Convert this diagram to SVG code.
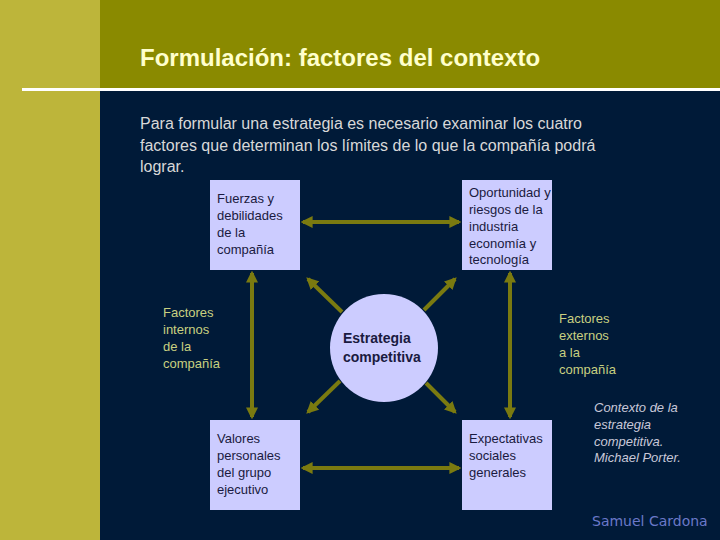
<svg xmlns="http://www.w3.org/2000/svg" width="720" height="540" viewBox="0 0 720 540">
<style>
.bx{fill:#ccccff}
.t{font-family:"Liberation Sans",Arial,sans-serif;font-size:13px;fill:#1a1a40}
.g{font-family:"Liberation Sans",Arial,sans-serif;font-size:13px;fill:#c8d080}
.ln{stroke:#7a7a10;stroke-width:4;fill:none;marker-start:url(#a);marker-end:url(#a)}
.d{stroke:#7a7a10;stroke-width:4;fill:none;marker-end:url(#a)}
</style>
<defs>
<marker id="a" viewBox="0 0 10 10" refX="8" refY="5" markerWidth="3" markerHeight="3" orient="auto-start-reverse"><path d="M0,0L10,5L0,10z" fill="#7a7a10"/></marker>
<clipPath id="c"><rect x="462" y="180" width="90" height="90"/></clipPath>
</defs>
<rect width="720" height="540" fill="#001a38"/>
<rect width="100" height="540" fill="#bdb53a"/>
<rect x="100" width="620" height="88" fill="#8a8a00"/>
<rect x="22" y="88" width="698" height="3" fill="#ffffff"/>
<text x="140" y="66" font-family="Liberation Sans,Arial,sans-serif" font-size="24" font-weight="bold" fill="#ffffcc">Formulación: factores del contexto</text>
<g font-family="Liberation Sans,Arial,sans-serif" font-size="16" fill="#d8d8d8">
<text x="140" y="129">Para formular una estrategia es necesario examinar los cuatro</text>
<text x="140" y="151">factores que determinan los límites de lo que la compañía podrá</text>
<text x="140" y="172">lograr.</text>
</g>
<g id="connectors">
<line class="ln" x1="303" y1="222" x2="459" y2="222"/>
<line class="ln" x1="303" y1="468" x2="459" y2="468"/>
<line class="ln" x1="252" y1="273" x2="252" y2="417"/>
<line class="ln" x1="510" y1="273" x2="510" y2="417"/>
<line class="d" x1="342" y1="312" x2="308" y2="279"/>
<line class="d" x1="424" y1="310" x2="455" y2="279"/>
<line class="d" x1="340" y1="381" x2="308" y2="412"/>
<line class="d" x1="426" y1="383" x2="455" y2="412"/>
</g>
<g id="n1"><rect class="bx" x="210" y="180" width="90" height="90"/>
<text class="t"><tspan x="217" y="203">Fuerzas y</tspan><tspan x="217" y="220">debilidades</tspan><tspan x="217" y="237">de la</tspan><tspan x="217" y="254">compañía</tspan></text></g>
<g id="n2"><rect class="bx" x="462" y="180" width="90" height="90"/>
<text class="t" clip-path="url(#c)"><tspan x="469" y="197">Oportunidad y</tspan><tspan x="469" y="214">riesgos de la</tspan><tspan x="469" y="231">industria</tspan><tspan x="469" y="248">economía y</tspan><tspan x="469" y="264">tecnología</tspan></text></g>
<g id="n3"><rect class="bx" x="210" y="420" width="90" height="90"/>
<text class="t"><tspan x="217" y="443">Valores</tspan><tspan x="217" y="460">personales</tspan><tspan x="217" y="477">del grupo</tspan><tspan x="217" y="494">ejecutivo</tspan></text></g>
<g id="n4"><rect class="bx" x="462" y="420" width="90" height="90"/>
<text class="t"><tspan x="469" y="443">Expectativas</tspan><tspan x="469" y="460">sociales</tspan><tspan x="469" y="477">generales</tspan></text></g>
<g id="center"><circle cx="384" cy="348" r="54" fill="#ccccff"/>
<text font-family="Liberation Sans,Arial,sans-serif" font-size="14" font-weight="bold" fill="#1a1a40"><tspan x="343" y="343">Estrategia</tspan><tspan x="343" y="362">competitiva</tspan></text></g>
<text class="g"><tspan x="163" y="317">Factores</tspan><tspan x="163" y="334">internos</tspan><tspan x="163" y="351">de la</tspan><tspan x="163" y="368">compañía</tspan></text>
<text class="g"><tspan x="559" y="323">Factores</tspan><tspan x="559" y="340">externos</tspan><tspan x="559" y="357">a la</tspan><tspan x="559" y="374">compañía</tspan></text>
<text font-family="Liberation Sans,Arial,sans-serif" font-size="13" font-style="italic" fill="#c8c8d8"><tspan x="594" y="412">Contexto de la</tspan><tspan x="594" y="429">estrategia</tspan><tspan x="594" y="446">competitiva.</tspan><tspan x="594" y="462">Michael Porter.</tspan></text>
<text x="592" y="526" font-family="DejaVu Sans,sans-serif" font-size="14" fill="#6a78c8">Samuel Cardona</text>
</svg>
